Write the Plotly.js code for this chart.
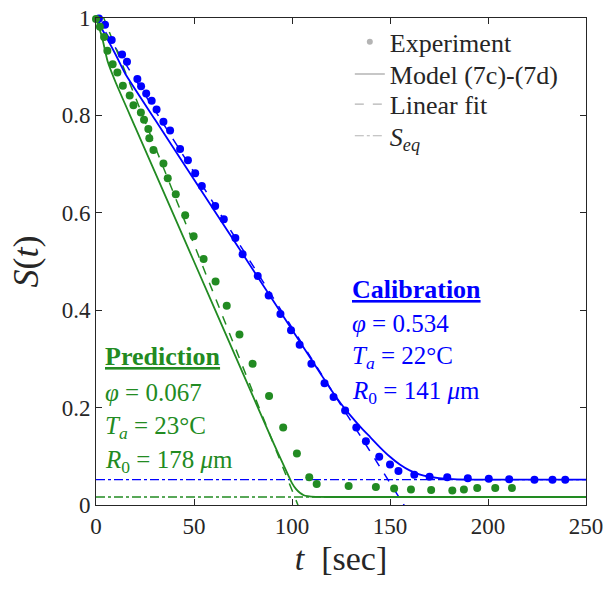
<!DOCTYPE html>
<html>
<head>
<meta charset="utf-8">
<script src="https://cdn.plot.ly/plotly-3.0.1.min.js"></script>
<style>html,body{margin:0;padding:0;background:#fff;}#chart{width:604px;height:591px;}</style>
</head>
<body>
<div id="chart"></div>
<script>
// ---- Calibration (blue) experiment ----
const calT = [1.5,4.6,8.0,13.3,15.8,21.1,23.0,25.6,28.4,30.9,34.4,37.8,42.9,46.9,50.6,54.0,60.8,65.2,71.1,74.8,82.5,88.1,94.1,99.5,103.9,109.9,116.6,121.2,127.1,132.8,137.7,144.5,150.0,154.3,162.4,170.2,179.2,189.7,200.4,210.8,223.7,232.9,239.4];
const calS = [0.999,0.986,0.955,0.925,0.910,0.875,0.860,0.845,0.830,0.812,0.787,0.769,0.731,0.708,0.681,0.655,0.614,0.587,0.548,0.515,0.470,0.430,0.392,0.359,0.329,0.290,0.250,0.222,0.194,0.159,0.131,0.099,0.083,0.070,0.062,0.058,0.057,0.055,0.054,0.053,0.052,0.052,0.052];
// ---- Prediction (green) experiment ----
const preT = [0.0,2.0,4.1,5.8,8.5,10.9,13.7,17.2,19.1,22.9,24.5,26.7,27.2,29.3,34.4,36.6,40.7,45.5,49.8,54.9,61.0,66.7,73.2,79.9,88.3,95.5,102.5,108.8,112.6,128.9,142.8,152.1,160.7,171.0,181.8,187.7,194.5,203.7,212.2];
const preS = [0.998,0.982,0.961,0.933,0.905,0.888,0.861,0.841,0.821,0.806,0.791,0.772,0.753,0.729,0.701,0.671,0.638,0.595,0.552,0.505,0.459,0.409,0.350,0.290,0.224,0.159,0.106,0.057,0.043,0.039,0.037,0.034,0.032,0.031,0.030,0.032,0.035,0.035,0.035];
// ---- Model curves ----
const calModelT = [0,2,5,10,15,30,60,90,115,120,125,130,135,140,145,150,155,160,165,170,175,182,195,250];
const calModelS = [1.0,0.985,0.963,0.925,0.885,0.792,0.607,0.422,0.267,0.236,0.208,0.183,0.160,0.139,0.118,0.099,0.083,0.071,0.063,0.058,0.055,0.053,0.052,0.052];
const preModelT = [0,1,3,6,10,20,40,60,80,90,95,98,100,102,104,106,108,112,120,250];
const preModelS = [1.0,0.987,0.962,0.910,0.868,0.776,0.592,0.408,0.224,0.132,0.088,0.062,0.045,0.033,0.025,0.020,0.018,0.0166,0.0164,0.0164];
// ---- Linear fits ----
const calFitT = [0,159];
const calFitS = [1.002,-0.012];
const preFitT = [0,105];
const preFitS = [1.04,-0.02];
// ---- Equilibrium values ----
const eqT = [0,250];
const calEq = [0.052,0.052];
const preEq = [0.0164,0.0164];

const xTicks = [0,50,100,150,200,250];
const yTicks = [0,0.2,0.4,0.6,0.8,1];
const legendNames = ['Experiment','Model (7c)-(7d)','Linear fit','<i>S</i><sub><i>eq</i></sub>'];

const BLUE = '#0000ff', GREEN = '#228b22', GREY = '#b4b4b4', INK = '#262626';
const FONT = 'Liberation Serif, Times New Roman, serif';

const traces = [
  {x: eqT, y: calEq, mode:'lines', line:{color:BLUE,width:1.3,dash:'dashdot'}, showlegend:false},
  {x: eqT, y: preEq, mode:'lines', line:{color:GREEN,width:1.3,dash:'dashdot'}, showlegend:false},
  {x: calFitT, y: calFitS, mode:'lines', line:{color:BLUE,width:1.5,dash:'dash'}, showlegend:false},
  {x: preFitT, y: preFitS, mode:'lines', line:{color:GREEN,width:1.5,dash:'dash'}, showlegend:false},
  {x: calModelT, y: calModelS, mode:'lines', line:{color:BLUE,width:1.8,shape:'spline',smoothing:0.5}, showlegend:false},
  {x: preModelT, y: preModelS, mode:'lines', line:{color:GREEN,width:1.8,shape:'spline',smoothing:0.5}, showlegend:false},
  {x: calT, y: calS, mode:'markers', marker:{color:BLUE,size:8}, showlegend:false, cliponaxis:false},
  {x: preT, y: preS, mode:'markers', marker:{color:GREEN,size:8}, showlegend:false, cliponaxis:false},
  // legend entries (one legend per row so spacing can follow the reference)
  {x:[null], y:[null], mode:'markers', marker:{color:GREY,size:6}, name:legendNames[0], legend:'legend'},
  {x:[null], y:[null], mode:'lines', line:{color:GREY,width:1.5}, name:legendNames[1], legend:'legend2'},
  {x:[null], y:[null], mode:'lines', line:{color:GREY,width:1.2,dash:'dash'}, name:legendNames[2], legend:'legend3'},
  {x:[null], y:[null], mode:'lines', line:{color:GREY,width:1.2,dash:'dashdot'}, name:legendNames[3], legend:'legend4'}
];

function ann(x, y, text, color, size) {
  return {xref:'paper', yref:'paper', x:x, y:y, text:text, showarrow:false,
    xanchor:'left', yanchor:'middle', font:{family:FONT, size:size || 25, color:color}};
}
function leg(y) {
  return {x:0.518, y:y, xanchor:'left', yanchor:'middle', bgcolor:'rgba(0,0,0,0)',
    font:{family:FONT,size:26,color:INK}, itemwidth:30, borderwidth:0};
}
const EQ = '&nbsp;=&nbsp;';

const layout = {
  width:604, height:591,
  margin:{l:96, r:18, t:18, b:86},
  paper_bgcolor:'#fff', plot_bgcolor:'#fff',
  font:{family:FONT, size:22, color:INK},
  showlegend:true,
  legend:leg(0.951), legend2:leg(0.885), legend3:leg(0.823), legend4:leg(0.758),
  xaxis:{range:[0,250], tickvals:xTicks, ticks:'inside', ticklen:6, tickcolor:INK, showline:true, linecolor:INK, linewidth:1, mirror:'ticks', showgrid:false, zeroline:false,
    tickfont:{family:FONT,size:23,color:INK},
    title:{text:'<i>t</i>  [sec]', font:{family:FONT,size:34,color:INK}, standoff:8}},
  yaxis:{range:[0,1], tickvals:yTicks, ticks:'inside', ticklen:6, tickcolor:INK, showline:true, linecolor:INK, linewidth:1, mirror:'ticks', showgrid:false, zeroline:false,
    tickfont:{family:FONT,size:23,color:INK},
    title:{text:'<i>S</i>(<i>t</i>)', font:{family:FONT,size:36,color:INK}, standoff:12}},
  annotations:[
    ann(0.518, 0.4435, '<u><b>Calibration</b></u>', BLUE, 26),
    ann(0.518, 0.372, '<i>φ</i>' + EQ + '0.534', BLUE),
    ann(0.518, 0.302, '<i>T</i><sub><i>a</i></sub>' + EQ + '22°C', BLUE),
    ann(0.518, 0.230, '<i>R</i><sub>0</sub>' + EQ + '141 <i>μ</i>m', BLUE),
    ann(0.014, 0.304, '<u><b>Prediction</b></u>', GREEN, 26),
    ann(0.014, 0.232, '<i>φ</i>' + EQ + '0.067', GREEN),
    ann(0.014, 0.160, '<i>T</i><sub><i>a</i></sub>' + EQ + '23°C', GREEN),
    ann(0.014, 0.090, '<i>R</i><sub>0</sub>' + EQ + '178 <i>μ</i>m', GREEN)
  ]
};

Plotly.newPlot('chart', traces, layout, {staticPlot:true, displayModeBar:false});
</script>
</body>
</html>
